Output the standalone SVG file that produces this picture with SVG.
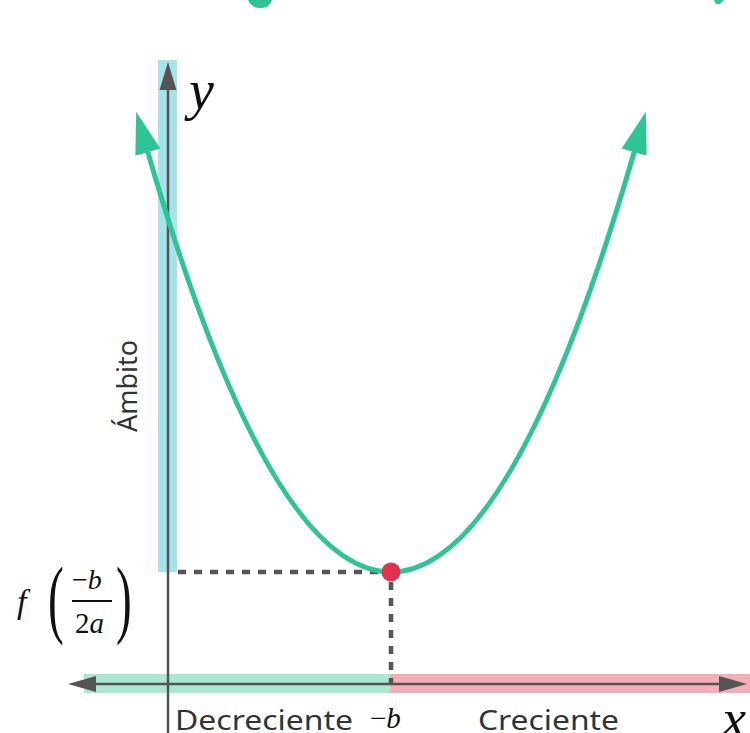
<svg xmlns="http://www.w3.org/2000/svg" width="750" height="733" viewBox="0 0 750 733">
<defs>
<style>
.math{font-family:"Liberation Serif","DejaVu Serif",serif;font-style:italic;fill:#111}
.mathr{font-family:"Liberation Serif","DejaVu Serif",serif;fill:#111}
.lbl{font-family:"Noto Sans","Open Sans","Liberation Sans",sans-serif;fill:#333}
.axis{stroke:#555;stroke-width:2.5;fill:none}
.dot{stroke:#555;stroke-width:4.5;stroke-dasharray:8 8;fill:none}
</style>
<marker id="ga" markerUnits="userSpaceOnUse" markerWidth="50" markerHeight="30" viewBox="0 -15 50 30" refX="3" refY="0" orient="auto-start-reverse">
<path d="M0,-13 L42,0 L0,13 z" fill="#2ec495"/>
</marker>
</defs>
<rect width="750" height="733" fill="#fff"/>
<g id="title-fragments" fill="#2ec495">
<path d="M248,0 Q252,9 262,8 Q270,7 272,0 Z"/>
<path d="M714,0 L724,0 L720,4 L716,4 Z"/>
</g>
<g id="bands">
<rect x="158" y="60" width="19" height="512" fill="#a8e4ec"/>
<rect x="84" y="674" width="306" height="19" fill="#abe8d4"/>
<rect x="390" y="674" width="360" height="19" fill="#f4aeba"/>
</g>
<g id="connectors">
<line class="axis" x1="168" y1="88" x2="168" y2="733"/>
<polygon points="168,62 159.5,90 176.5,90" fill="#555"/>
<line class="axis" x1="94" y1="684" x2="721" y2="684"/>
<polygon points="68,684 96,676 96,692" fill="#555"/>
<polygon points="747,684 719,676 719,692" fill="#555"/>
<path class="dot" d="M178,572 H384"/>
<path class="dot" d="M391,582 V684"/>
</g>
<g id="parabola">
<path d="M147,149.3 Q391,994.7 635,149.3" fill="none" stroke="#2ec495" stroke-width="5" marker-start="url(#ga)" marker-end="url(#ga)"/>
</g>
<g id="vertex">
<circle cx="391" cy="572" r="9.5" fill="#e2304e"/>
</g>
<g id="labels">
<text class="math" x="189" y="109" font-size="56">y</text>
<text class="math" x="722" y="737" font-size="54">x</text>
<text class="lbl" x="137" y="386" font-size="27" text-anchor="middle" transform="rotate(-90 137 386)">Ámbito</text>
<text class="lbl" x="175" y="730" font-size="28" textLength="178" lengthAdjust="spacingAndGlyphs">Decreciente</text>
<text class="lbl" x="478" y="730" font-size="28" textLength="141" lengthAdjust="spacingAndGlyphs">Creciente</text>
<text class="mathr" x="370" y="728" font-size="29">−<tspan class="math">b</tspan></text>
<text class="math" x="17" y="613" font-size="34">f</text>
<text class="mathr" x="0" y="0" font-size="86" transform="translate(48,627) scale(0.55,1)">(</text>
<text class="mathr" x="0" y="0" font-size="86" transform="translate(116,627) scale(0.55,1)">)</text>
<text class="mathr" x="72" y="589" font-size="28">−<tspan class="math">b</tspan></text>
<line x1="72" y1="601" x2="112" y2="601" stroke="#111" stroke-width="1.8"/>
<text class="mathr" x="75" y="633" font-size="29">2<tspan class="math">a</tspan></text>
</g>
</svg>
